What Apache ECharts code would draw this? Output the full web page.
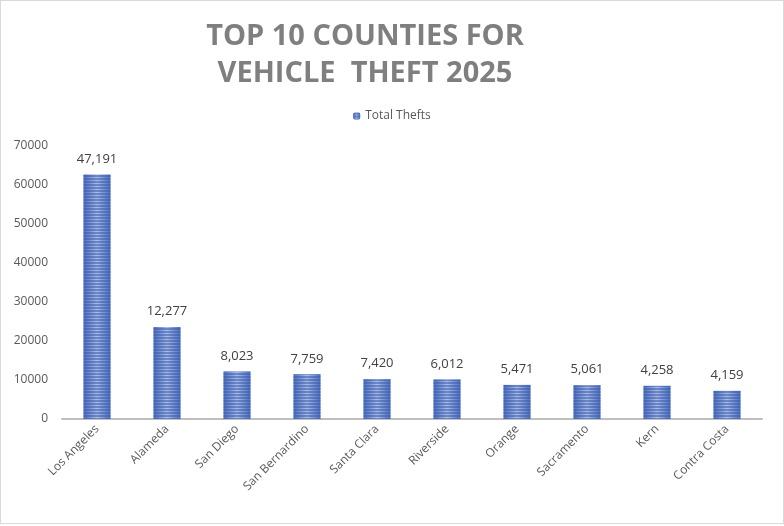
<!DOCTYPE html>
<html>
<head>
<meta charset="utf-8">
<script src="https://cdn.jsdelivr.net/npm/echarts@6/dist/echarts.min.js"></script>
<style>
  html, body { margin: 0; padding: 0; background: #fff; }
  #main { width: 782px; height: 522px; border: 1px solid #d9d9d9; }
</style>
</head>
<body>
<div id="main"></div>
<script>
var counties = ['Los Angeles', 'Alameda', 'San Diego', 'San Bernardino', 'Santa Clara',
    'Riverside', 'Orange', 'Sacramento', 'Kern', 'Contra Costa'];
// bar heights as drawn in the picture
var barValues = [62700, 23600, 12200, 11450, 10200, 10100, 8750, 8650, 8500, 7230];
// labels printed above the bars
var barLabels = ['47,191', '12,277', '8,023', '7,759', '7,420', '6,012', '5,471', '5,061', '4,258', '4,159'];
var yTicks = [0, 10000, 20000, 30000, 40000, 50000, 60000, 70000];

var myChart = echarts.init(document.getElementById('main'));

var barFill = new echarts.graphic.LinearGradient(0, 0, 1, 0, [
    {offset: 0, color: '#4a6fc0'},
    {offset: 0.5, color: '#a9bde8'},
    {offset: 1, color: '#4a6fc0'}
]);

var option = {
    animation: false,
    title: {
        text: 'TOP 10 COUNTIES FOR\nVEHICLE  THEFT 2025',
        left: 359,
        top: 12,
        textAlign: 'center',
        textStyle: {
            fontFamily: 'Open Sans',
            fontWeight: 'bold',
            fontSize: 29,
            lineHeight: 37,
            color: '#7f7f7f'
        }
    },
    legend: {
        top: 104,
        left: 'center',
        itemWidth: 7,
        itemHeight: 7,
        itemGap: 6,
        textStyle: {fontFamily: 'Open Sans', fontSize: 12, color: '#595959'},
        data: ['Total Thefts']
    },
    grid: {left: 61, right: 21, top: 145, bottom: 104},
    xAxis: {
        type: 'category',
        data: counties,
        axisLine: {lineStyle: {color: '#bfbfbf', width: 2}},
        axisTick: {show: false},
        axisLabel: {
            rotate: 45,
            interval: 0,
            margin: 8,
            fontFamily: 'Open Sans',
            fontSize: 12,
            color: '#595959'
        }
    },
    yAxis: {
        type: 'value',
        min: yTicks[0],
        max: yTicks[yTicks.length - 1],
        interval: 10000,
        axisLine: {show: false},
        axisTick: {show: false},
        splitLine: {show: false},
        axisLabel: {
            margin: 14,
            fontFamily: 'Open Sans',
            fontSize: 12,
            color: '#595959',
            formatter: function (v) { return String(v); }
        }
    },
    series: [{
        name: 'Total Thefts',
        type: 'bar',
        data: barValues,
        barWidth: 27,
        itemStyle: {
            color: barFill,
            decal: {
                symbol: 'rect',
                dashArrayX: [1, 0],
                dashArrayY: [2, 1],
                rotation: 0,
                color: 'rgba(60,90,170,0.55)'
            }
        },
        label: {
            show: true,
            position: 'top',
            distance: 9,
            fontFamily: 'Open Sans',
            fontSize: 13,
            color: '#404040',
            formatter: function (p) { return barLabels[p.dataIndex]; }
        }
    }]
};

myChart.setOption(option);
</script>
</body>
</html>
